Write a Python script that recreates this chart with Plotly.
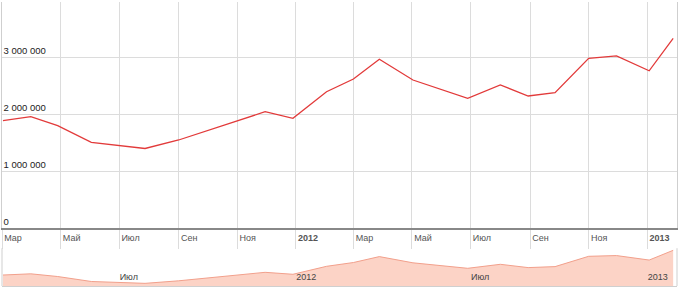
import plotly.graph_objects as go

dates = ["2011-03-02", "2011-03-31", "2011-04-28", "2011-06-02", "2011-07-28",
         "2011-09-01", "2011-11-30", "2011-12-29", "2012-02-02", "2012-03-01",
         "2012-03-28", "2012-05-02", "2012-06-28", "2012-08-01", "2012-08-30",
         "2012-09-27", "2012-11-01", "2012-11-30", "2013-01-03", "2013-01-28"]
values = [1882000, 1953000, 1795000, 1504000, 1395000,
          1544000, 2040000, 1925000, 2391000, 2614000,
          2960000, 2596000, 2275000, 2509000, 2316000,
          2374000, 2977000, 3020000, 2758000, 3328000]

x_tick_vals = ["2011-03-01", "2011-05-01", "2011-07-01", "2011-09-01", "2011-11-01",
               "2012-01-01", "2012-03-01", "2012-05-01", "2012-07-01", "2012-09-01",
               "2012-11-01", "2013-01-01"]
x_tick_text = ["Мар", "Май", "Июл", "Сен", "Ноя", "<b>2012</b>",
               "Мар", "Май", "Июл", "Сен", "Ноя", "<b>2013</b>"]

y_tick_vals = [0, 1000000, 2000000, 3000000]
y_tick_text = ["0", "1 000 000", "2 000 000", "3 000 000"]

nav_tick_vals = ["2011-07-01", "2012-01-01", "2012-07-01", "2013-01-01"]
nav_tick_text = ["Июл", "2012", "Июл", "2013"]

x_range = ["2011-03-01", "2013-02-01"]

FONT = "Liberation Sans, Arial, sans-serif"
NAV_TOP = 0.133

fig = go.Figure()
fig.add_trace(go.Scatter(
    x=dates, y=values, mode="lines",
    line=dict(color="#e23a3a", width=1.3),
    xaxis="x", yaxis="y", hoverinfo="skip", showlegend=False))
fig.add_trace(go.Scatter(
    x=dates, y=values, mode="lines", fill="tozeroy",
    line=dict(color="#f2a08c", width=1), fillcolor="#fcd3c6",
    xaxis="x2", yaxis="y2", hoverinfo="skip", showlegend=False))

fig.update_layout(
    width=680, height=288,
    margin=dict(l=2, r=3, t=2, b=2),
    paper_bgcolor="white", plot_bgcolor="white",
    font=dict(family=FONT, size=9, color="#333"),
    xaxis=dict(
        domain=[0, 1], range=x_range, type="date",
        tickvals=x_tick_vals, ticktext=x_tick_text,
        ticklabelposition="outside right", ticklabelstandoff=0,
        ticklabeloverflow="allow", ticklabelshift=1,
        ticks="outside", ticklen=19, tickcolor="#dcdcdc", tickwidth=1,
        tickfont=dict(size=9, color="#555"),
        showgrid=True, gridcolor="#dcdcdc", gridwidth=1,
        showline=True, linecolor="#888", linewidth=1.5,
        zeroline=False, fixedrange=True,
    ),
    yaxis=dict(
        domain=[0.2042, 1], range=[0, 3965000],
        tickvals=y_tick_vals, ticktext=y_tick_text,
        ticklabelposition="inside top", ticks="",
        ticklabeloverflow="allow",
        tickfont=dict(size=9.5, color="#222"),
        showgrid=True, gridcolor="#dcdcdc", gridwidth=1,
        showline=True, linecolor="#cfcfcf", linewidth=1, mirror=True,
        zeroline=False, fixedrange=True,
    ),
    xaxis2=dict(
        domain=[0, 1], range=x_range, type="date", anchor="y2",
        tickvals=nav_tick_vals, ticktext=nav_tick_text,
        ticklabelposition="inside right", ticks="",
        ticklabeloverflow="allow",
        tickfont=dict(size=9, color="#444"),
        showgrid=False, showline=True, linecolor="#cfcfcf", linewidth=1,
        mirror=False, zeroline=False, fixedrange=True,
    ),
    yaxis2=dict(
        domain=[0, NAV_TOP], range=[1240000, 3450000], anchor="x2",
        showticklabels=False, ticks="", showgrid=False,
        showline=False, zeroline=False, fixedrange=True,
    ),
    shapes=[
        dict(type="line", xref="paper", yref="paper", x0=0, x1=0, y0=0, y1=NAV_TOP,
             line=dict(color="#cfcfcf", width=1)),
        dict(type="line", xref="paper", yref="paper", x0=1, x1=1, y0=0, y1=NAV_TOP,
             line=dict(color="#cfcfcf", width=1)),
    ],
)

fig.write_html("out.html")
